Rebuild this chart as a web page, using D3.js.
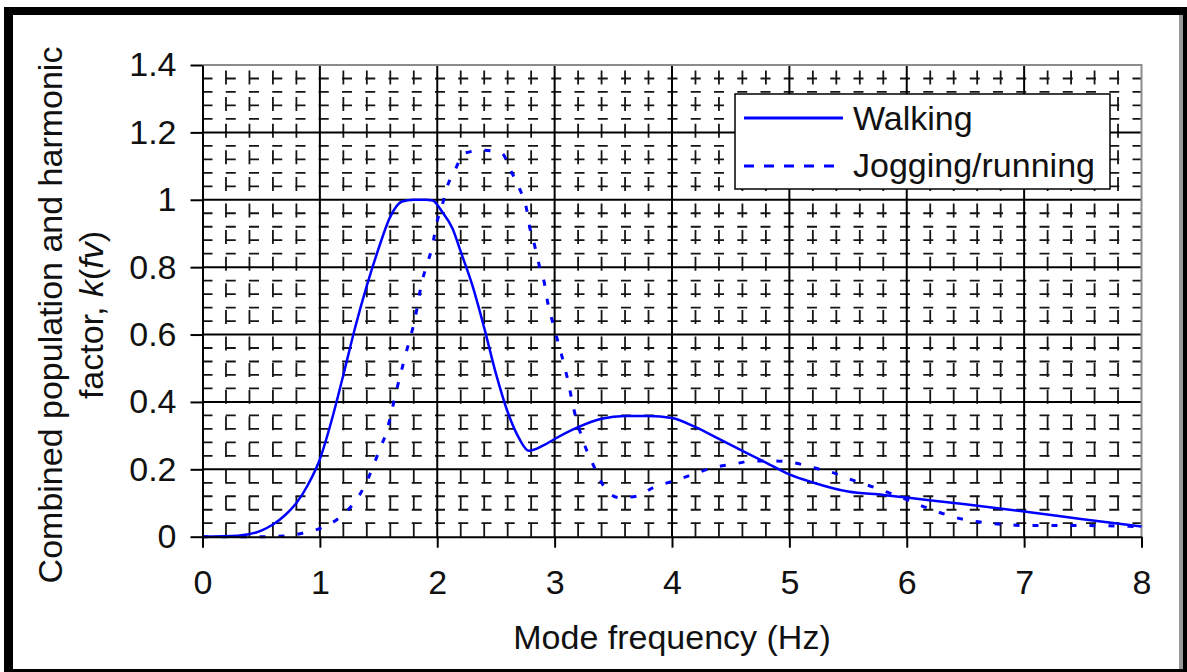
<!DOCTYPE html>
<html>
<head>
<meta charset="utf-8">
<script src="https://cdn.jsdelivr.net/npm/d3@7"></script>
<style>
  html, body { margin: 0; padding: 0; background: #fff; }
  svg { display: block; }
  text { font-family: "Liberation Sans", Arial, sans-serif; fill: #111; }
</style>
</head>
<body>
<svg id="chart" width="1187" height="672"></svg>
<script>
// Combined population and harmonic factor k(fv) against mode frequency
const walkFreq = [0, 0.3, 0.5, 0.6, 0.7, 0.8, 0.9, 1.0, 1.1, 1.2, 1.3, 1.4, 1.5, 1.6, 1.7, 1.8, 1.9, 1.96, 2.04, 2.13, 2.2, 2.3, 2.4, 2.5, 2.6, 2.7, 2.78, 2.9, 3.0, 3.2, 3.4, 3.6, 3.8, 4.0, 4.2, 4.4, 4.6, 4.8, 5.0, 5.2, 5.5, 5.8, 6.0, 6.5, 7.0, 7.5, 8.0];
const walkK    = [0, 0.003, 0.018, 0.036, 0.063, 0.10, 0.155, 0.23, 0.345, 0.48, 0.62, 0.745, 0.855, 0.95, 0.995, 1.0, 1.0, 0.998, 0.965, 0.915, 0.846, 0.745, 0.62, 0.484, 0.37, 0.29, 0.255, 0.27, 0.29, 0.325, 0.35, 0.358, 0.358, 0.352, 0.325, 0.29, 0.255, 0.22, 0.185, 0.161, 0.134, 0.124, 0.116, 0.096, 0.075, 0.052, 0.03];

const jogFreq = [0, 0.5, 0.7, 0.87, 1.02, 1.18, 1.29, 1.38, 1.45, 1.51, 1.57, 1.61, 1.65, 1.73, 1.81, 1.87, 1.92, 1.96, 1.99, 2.04, 2.08, 2.15, 2.23, 2.39, 2.55, 2.63, 2.70, 2.76, 2.79, 2.83, 2.87, 2.91, 2.94, 3.0, 3.11, 3.17, 3.21, 3.27, 3.34, 3.42, 3.55, 3.70, 3.84, 4.0, 4.18, 4.35, 4.52, 4.69, 4.86, 5.03, 5.2, 5.37, 5.52, 5.7, 5.85, 6.0, 6.17, 6.33, 6.5, 6.68, 6.85, 7.0, 7.5, 8.0];
const jogK    = [0, 0, 0.002, 0.012, 0.027, 0.06, 0.10, 0.15, 0.205, 0.26, 0.313, 0.37, 0.43, 0.54, 0.646, 0.757, 0.816, 0.864, 0.923, 0.98, 1.034, 1.087, 1.138, 1.147, 1.138, 1.084, 1.034, 0.974, 0.915, 0.864, 0.804, 0.757, 0.697, 0.616, 0.468, 0.369, 0.319, 0.259, 0.205, 0.149, 0.116, 0.12, 0.146, 0.164, 0.185, 0.205, 0.215, 0.225, 0.225, 0.22, 0.205, 0.19, 0.17, 0.149, 0.13, 0.11, 0.086, 0.066, 0.05, 0.041, 0.036, 0.033, 0.033, 0.03];

const seriesNames = ["Walking", "Jogging/running"];
const xTicks = [0, 1, 2, 3, 4, 5, 6, 7, 8];
const yTicks = [0, 0.2, 0.4, 0.6, 0.8, 1.0, 1.2, 1.4];
const yTickLabels = ["0", "0.2", "0.4", "0.6", "0.8", "1", "1.2", "1.4"];
const xTitle = "Mode frequency (Hz)";
const yTitleLine1 = "Combined population and harmonic";

const svg = d3.select("#chart");
const W = 1187, H = 672;
const plot = { left: 202.5, right: 1141.5, top: 65, bottom: 536.7 };

const x = d3.scaleLinear().domain([0, 8]).range([plot.left, plot.right]);
const y = d3.scaleLinear().domain([0, 1.4]).range([plot.bottom, plot.top]);

// outer frame
svg.append("rect").attr("x", 4).attr("y", 7).attr("width", W - 4).attr("height", H - 7).attr("fill", "#000");
svg.append("rect").attr("x", 13).attr("y", 15).attr("width", 1167).attr("height", 654).attr("fill", "#fff");
svg.append("rect").attr("x", 1179).attr("y", 15).attr("width", 4).attr("height", 654).attr("fill", "#9a9a9a");

const grid = svg.append("g");

// minor vertical grid every 0.2 Hz
const minorX = d3.range(1, 40).filter(i => i % 5 !== 0).map(i => i * 0.2);
grid.selectAll(".mvx").data(minorX).join("line")
  .attr("x1", d => x(d)).attr("x2", d => x(d))
  .attr("y1", plot.bottom).attr("y2", plot.top)
  .attr("stroke", "#151515").attr("stroke-width", 1.8)
  .attr("stroke-dasharray", "14,12.6");

// minor horizontal grid every 0.04
const minorY = d3.range(1, 35).filter(i => i % 5 !== 0).map(i => i * 0.04);
grid.selectAll(".mhy").data(minorY).join("line")
  .attr("x1", plot.left).attr("x2", plot.right)
  .attr("y1", d => y(d)).attr("y2", d => y(d))
  .attr("stroke", "#151515").attr("stroke-width", 1.8)
  .attr("stroke-dasharray", "10,13.25");

// major grid
grid.selectAll(".Mx").data(xTicks.filter(d => d > 0 && d < 8)).join("line")
  .attr("x1", d => x(d)).attr("x2", d => x(d))
  .attr("y1", plot.bottom).attr("y2", plot.top)
  .attr("stroke", "#000").attr("stroke-width", 2);
grid.selectAll(".My").data(yTicks.filter(d => d > 0 && d < 1.4)).join("line")
  .attr("x1", plot.left).attr("x2", plot.right)
  .attr("y1", d => y(d)).attr("y2", d => y(d))
  .attr("stroke", "#000").attr("stroke-width", 2);

// plot area border (top and right)
svg.append("path")
  .attr("d", `M${plot.left},${plot.top}H${plot.right}V${plot.bottom}`)
  .attr("fill", "none").attr("stroke", "#8c8c8c").attr("stroke-width", 2);

// curves
const line = d3.line().x(d => x(d[0])).y(d => y(d[1])).curve(d3.curveMonotoneX);
const walkPts = walkFreq.map((f, i) => [f, walkK[i]]);
const jogPts = jogFreq.map((f, i) => [f, jogK[i]]);

svg.append("path").datum(jogPts).attr("d", line)
  .attr("fill", "none").attr("stroke", "#0000ff").attr("stroke-width", 3)
  .attr("stroke-dasharray", "6,13");
svg.append("path").datum(walkPts).attr("d", line)
  .attr("fill", "none").attr("stroke", "#0000ff").attr("stroke-width", 2.5);

// axes
const yAxis = svg.append("g").attr("transform", `translate(${plot.left},0)`)
  .call(d3.axisLeft(y).tickValues(yTicks).tickSize(12).tickSizeOuter(0).tickPadding(14)
    .tickFormat((d, i) => yTickLabels[i]));
const xAxis = svg.append("g").attr("transform", `translate(0,${plot.bottom})`)
  .call(d3.axisBottom(x).tickValues(xTicks).tickSize(11).tickSizeOuter(0).tickPadding(22)
    .tickFormat(d3.format("d")));
[yAxis, xAxis].forEach(g => {
  g.select(".domain").attr("stroke", "#000").attr("stroke-width", 2);
  g.selectAll(".tick line").attr("stroke", "#000").attr("stroke-width", 2);
  g.selectAll(".tick text").attr("font-size", 34).attr("fill", "#111")
    .style("font-family", "'Liberation Sans', Arial, sans-serif");
});

// axis titles
svg.append("text").attr("x", (plot.left + plot.right) / 2).attr("y", 649)
  .attr("text-anchor", "middle").attr("font-size", 34).text(xTitle);

svg.append("text").attr("transform", "translate(62,315) rotate(-90)")
  .attr("text-anchor", "middle").attr("font-size", 34).text(yTitleLine1);
const t2 = svg.append("text").attr("transform", "translate(103,315) rotate(-90)")
  .attr("text-anchor", "middle").attr("font-size", 34);
t2.append("tspan").text("factor, ");
t2.append("tspan").attr("font-style", "italic").text("k");
t2.append("tspan").text("(");
t2.append("tspan").attr("font-style", "italic").text("fv");
t2.append("tspan").text(")");

// legend
const lg = svg.append("g");
lg.append("rect").attr("x", 735).attr("y", 94).attr("width", 375).attr("height", 95)
  .attr("fill", "#fff").attr("stroke", "#000").attr("stroke-width", 1.5);
const legendRows = [
  { name: seriesNames[0], y: 118, dash: null, base: 130 },
  { name: seriesNames[1], y: 166, dash: "10,10", base: 177 }
];
legendRows.forEach(r => {
  lg.append("line").attr("x1", 744).attr("x2", 843).attr("y1", r.y).attr("y2", r.y)
    .attr("stroke", "#0000ff").attr("stroke-width", 3)
    .attr("stroke-dasharray", r.dash);
  lg.append("text").attr("x", 853).attr("y", r.base).attr("font-size", 34).text(r.name);
});
</script>
</body>
</html>
